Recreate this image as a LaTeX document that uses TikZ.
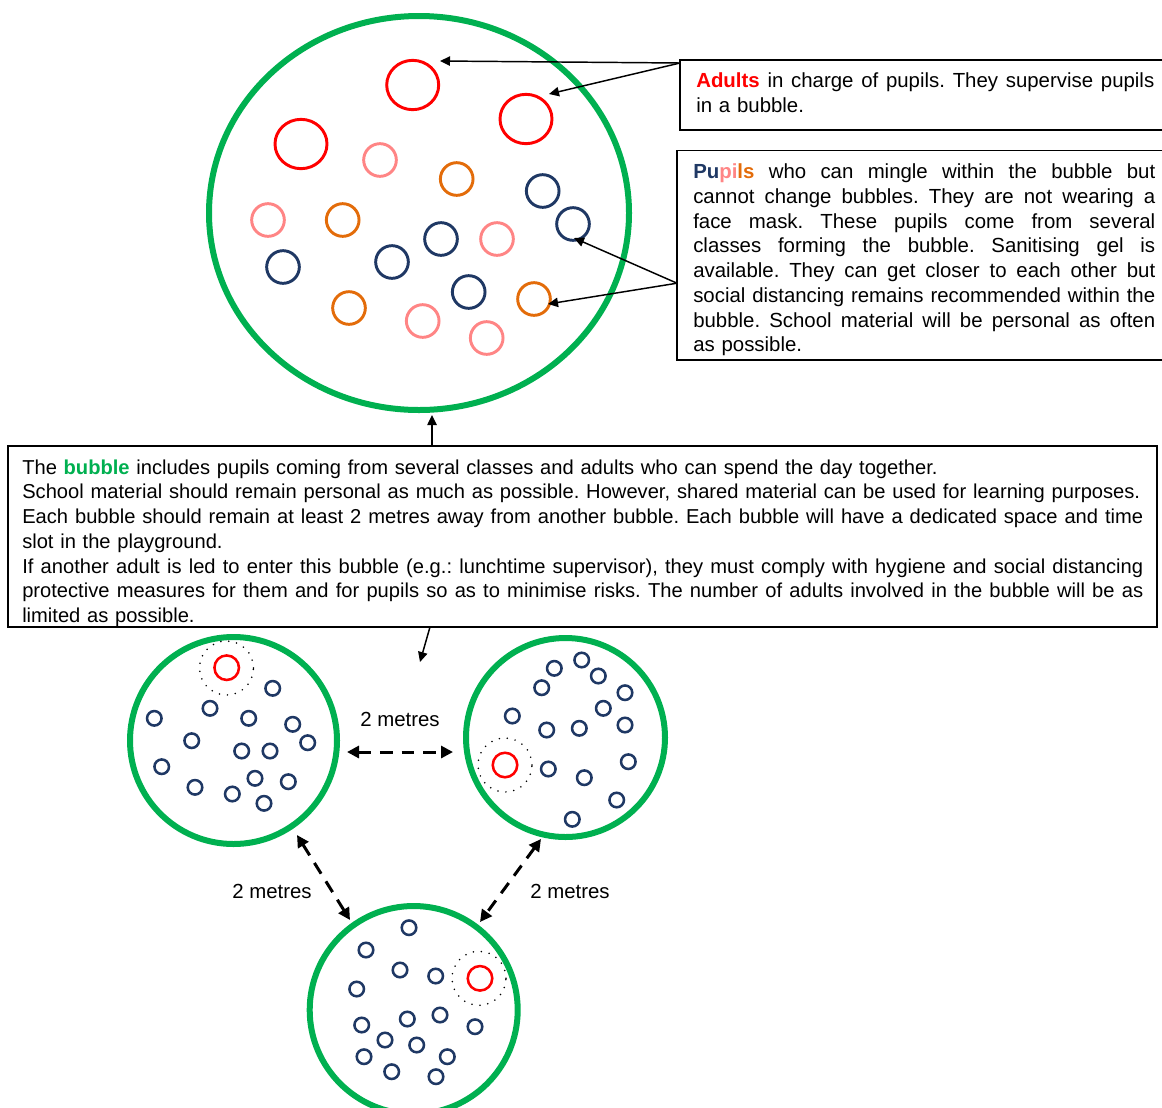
\documentclass[tikz,border=0pt]{standalone}
\usepackage{fontspec}
\setmainfont{Liberation Sans}
\usetikzlibrary{shapes.geometric,arrows.meta,calc}
\definecolor{bgreen}{HTML}{00B050}
\definecolor{bred}{HTML}{FF0000}
\definecolor{bpink}{HTML}{FF8585}
\definecolor{borange}{HTML}{E36C0A}
\definecolor{bnavy}{HTML}{1F3864}
\frenchspacing
\makeatletter
% justified line: words separated by \hfill in a box of given width
\def\jline#1#2{\leavevmode\hbox to #1{\jl@a#2 \jl@end}}
\def\jl@a#1 #2\jl@end{#1\ifx\relax#2\relax\else\hfill\jl@a#2\jl@end\fi}
\makeatother
\begin{document}
\begin{tikzpicture}[x=0.75pt,y=-0.75pt,
  bubble/.style={circle, draw=bgreen, line width=4.5pt, inner sep=0, outer sep=0},
  bigbubble/.style={ellipse, draw=bgreen, line width=4.5pt, inner sep=0, outer sep=0, minimum width=315pt, minimum height=295.5pt},
  kid/.style={circle, draw=#1, line width=2.2pt, minimum size=24.5pt, inner sep=0},
  adult/.style={ellipse, draw=bred, line width=2.2pt, minimum width=39pt, minimum height=37pt, inner sep=0},
  smallkid/.style={circle, draw=bnavy, line width=1.9pt, minimum size=10.9pt, inner sep=0},
  smalladult/.style={circle, draw=bred, line width=1.9pt, minimum size=18.4pt, inner sep=0},
  halo/.style={circle, draw=black, line width=1.3pt, dash pattern=on 0pt off 6pt, line cap=round, minimum size=40.5pt, inner sep=0},
  infobox/.style={draw, line width=1.1pt, anchor=north west, inner sep=0, outer sep=0},
  infotext/.style={anchor=base west, inner sep=0, font=\fontsize{15.3}{18.58}\selectfont},
  maintextstyle/.style={anchor=base west, inner sep=0, font=\fontsize{15.1}{18.58}\selectfont},
  pointer/.style={-{Triangle[length=7.5pt,width=7pt]}, line width=1.1pt},
  gap/.style={{Triangle[length=9pt,width=9pt]}-{Triangle[length=9pt,width=9pt]}, line width=2.25pt, dash pattern=on 9.5pt off 6.75pt},
  dist/.style={font=\fontsize{15.3}{18}\selectfont, inner sep=2pt}]
\useasboundingbox (0,0) rectangle (1162,1107);
\clip (0,0) rectangle (1162,1107);

% ---------- top bubble ----------
\node[bigbubble] (topbubble) at (419,213) {};
\node[adult] (a1) at (412.7,85) {};
\node[adult] (a2) at (526,119) {};
\node[adult] (a3) at (301,144) {};
\foreach \x/\y/\c [count=\i] in {380/160/bpink, 456.7/179/borange, 542.7/191/bnavy, 268/220/bpink,
  342.7/220/borange, 573/224/bnavy, 441/239/bnavy, 497/239/bpink, 283/267/bnavy, 392/262/bnavy,
  468.7/292/bnavy, 534/299/borange, 349/308/borange, 422.7/321/bpink, 486.7/338/bpink}
  \node[kid=\c] (p\i) at (\x,\y) {};

% ---------- boxes ----------
\node[infobox, minimum width=367.5pt, minimum height=52.5pt] (adultsbox) at (680,60) {};
\node[infotext, text width=343.5pt] (adultstext) at (696,87.5) {%
\jline{343.5pt}{\textcolor{bred}{\textbf{Adults}} in charge of pupils. They supervise pupils}\\
in a bubble.};

\node[infobox, minimum width=370pt, minimum height=157pt] (pupilsbox) at (677,150.7) {};
\node[infotext, text width=346.5pt] (pupilstext) at (693,178.5) {%
\jline{346.5pt}{\textbf{\textcolor{bnavy}{Pu}\textcolor{bpink}{pi}\textcolor{borange}{ls}} who can mingle within the bubble but}\\
\jline{346.5pt}{cannot change bubbles. They are not wearing a}\\
\jline{346.5pt}{face mask. These pupils come from several}\\
\jline{346.5pt}{classes forming the bubble. Sanitising gel is}\\
\jline{346.5pt}{available. They can get closer to each other but}\\
\jline{346.5pt}{social distancing remains recommended within the}\\
\jline{346.5pt}{bubble. School material will be personal as often}\\
as possible.};

\node[infobox, minimum width=861.75pt, minimum height=135.75pt] (mainbox) at (8,446) {};
\node[maintextstyle, text width=840.75pt] (maintext) at (22,474) {%
The \textcolor{bgreen}{\textbf{bubble}} includes pupils coming from several classes and adults who can spend the day together.\\
\jline{838.5pt}{School material should remain personal as much as possible. However, shared material can be used for learning purposes.}\\
\jline{840.75pt}{Each bubble should remain at least 2 metres away from another bubble. Each bubble will have a dedicated space and time}\\
slot in the playground.\\
\jline{840.75pt}{If another adult is led to enter this bubble (e.g.: lunchtime supervisor), they must comply with hygiene and social distancing}\\
\jline{840.75pt}{protective measures for them and for pupils so as to minimise risks. The number of adults involved in the bubble will be as}\\
limited as possible.};

% ---------- pointers ----------
\coordinate (tipA1) at (440,61);
\coordinate (tipA2) at (549,94);
\coordinate (tipP1) at (574,238);
\coordinate (tipP2) at (548,304);
\coordinate (tipTop) at (432,415);
\coordinate (tipDown) at (420,662);
\draw[pointer] ($(adultsbox.north west)+(0,3)$) -- (tipA1);
\draw[pointer] ($(adultsbox.north west)+(0,3)$) -- (tipA2);
\draw[pointer] ($(pupilsbox.north west)+(0,132.5)$) -- (tipP1);
\draw[pointer] ($(pupilsbox.north west)+(0,132.5)$) -- (tipP2);
\draw[pointer] ($(mainbox.north west)+(424,0)$) -- (tipTop);
\draw[pointer] ($(mainbox.south west)+(422,0)$) -- (tipDown);

% ---------- bottom bubbles ----------
\node[bubble, minimum size=155.25pt] (leftbubble) at (233.5,740.5) {};
\node[halo] (lhalo) at (226.5,668) {};
\node[smalladult] (la) at (226.7,667.7) {};
\foreach \x/\y [count=\i] in {272.7/688.3, 210/708.3, 154.3/718.3, 248.7/718.3, 292.7/724.3,
  307.7/742.7, 191.7/740.7, 241.7/751, 270/751, 161.7/766.7, 255/778.3, 288.3/781.7,
  195/787.3, 232.3/794, 264/803.3}
  \node[smallkid] (l\i) at (\x,\y) {};

\node[bubble, minimum size=149.25pt] (rightbubble) at (565.5,737.5) {};
\node[halo] (rhalo) at (505,765) {};
\node[smalladult] (ra) at (505,765) {};
\foreach \x/\y [count=\i] in {581.7/660, 554.3/668.3, 598.3/676, 541.7/687.7, 625/692.7,
  603.3/708.3, 512.3/716, 625/725, 546.7/730, 579.3/728.3, 628.3/761.7, 548.3/769,
  584.3/777.7, 616.7/800, 572.3/819.3}
  \node[smallkid] (r\i) at (\x,\y) {};

\node[bubble, minimum size=156pt] (lowbubble) at (413.7,1010) {};
\node[halo] (bhalo) at (479,978.3) {};
\node[smalladult] (ba) at (480,978.3) {};
\foreach \x/\y [count=\i] in {409/927.7, 366/950, 400/970, 435.7/976, 356.7/989, 407.3/1019,
  440/1015, 361.7/1025, 475/1026.7, 385/1040, 416.7/1045, 364/1056.7, 447.3/1056.7,
  391.7/1071.7, 436/1076.7}
  \node[smallkid] (b\i) at (\x,\y) {};

% ---------- distances ----------
\coordinate (g1a) at (347,752);
\coordinate (g1b) at (453,752);
\coordinate (g2a) at (297,835);
\coordinate (g2b) at (350,920);
\coordinate (g3a) at (541,839);
\coordinate (g3b) at (480,922);
\draw[gap] (g1a) -- (g1b);
\draw[gap] (g2a) -- (g2b);
\draw[gap] (g3a) -- (g3b);
\node[dist] (d1) at (400,719) {2 metres};
\node[dist] (d2) at (272,891) {2 metres};
\node[dist] (d3) at (570,891) {2 metres};
\end{tikzpicture}
\end{document}
